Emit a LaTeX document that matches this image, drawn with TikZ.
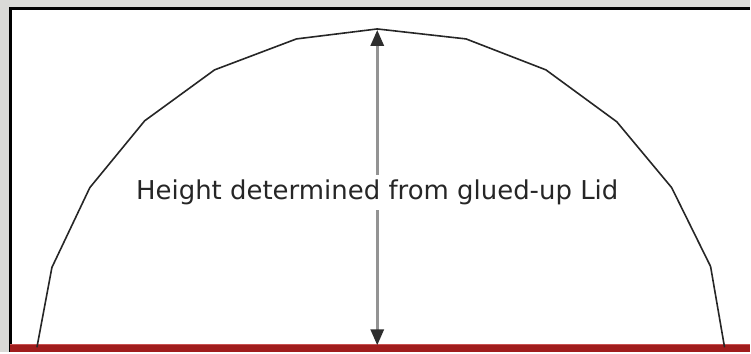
\documentclass[tikz,border=0pt]{standalone}
\usepackage{fontspec}
\setmainfont{DejaVu Sans}
\usepackage{tikz}
\usetikzlibrary{arrows.meta}
\definecolor{cfondo}{HTML}{DADAD7}
\definecolor{crojo}{HTML}{A01C1C}
\definecolor{crojoc}{HTML}{C85050}
\definecolor{cflecha}{HTML}{939393}
\definecolor{cpunta}{HTML}{2E2E2E}
\tikzset{
  marco/.style={draw=black, line width=3pt},
  tapa/.style={draw=black!85, line width=1.6pt, line join=round},
  cota/.style={draw=cflecha, line width=3pt,
    -{Triangle[length=16pt,width=13pt,color=cpunta]}},
  etq/.style={font=\fontsize{26}{30}\selectfont, text=black!85, inner xsep=2pt, inner ysep=5pt},
}
\begin{document}
\begin{tikzpicture}[x=1pt,y=-1pt]
  \fill[cfondo] (0,0) rectangle (751,353);
  \fill[white] (10,8) rectangle (751,353);
  \draw[marco] (751,8.5) -- (10.5,8.5) -- (10.5,353);
  \fill[crojo] (10,345) rectangle (751,353);
  \draw[crojoc, line width=0.8pt] (10,345.5) -- (751,345.5);
  \draw[tapa] (37,348) -- (52,268) -- (90,188) -- (145,121) -- (215,70) -- (297,39)
    -- (378,29) -- (467,39) -- (547,70) -- (618,122) -- (673,188) -- (712,267) -- (726,348);
  \coordinate (apex) at (378,30);
  \coordinate (base) at (378,346);
  \node[etq] (lbl) at (378,193) {Height determined from glued-up Lid};
  \draw[cota] (lbl) -- (apex);
  \draw[cota] (lbl) -- (base);
\end{tikzpicture}
\end{document}
